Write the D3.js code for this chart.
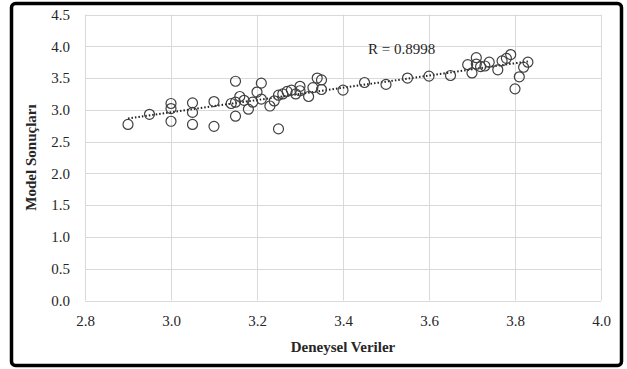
<!DOCTYPE html>
<html>
<head>
<meta charset="utf-8">
<script src="https://cdn.jsdelivr.net/npm/d3@7"></script>
<style>
  body { margin: 0; background: #fff; }
  svg text { font-family: "Liberation Serif", "Times New Roman", serif; fill: #262626; }
</style>
</head>
<body>
<svg id="chart" width="627" height="369"></svg>
<script>
let deneysel = [2.90, 2.95, 3.00, 3.00, 3.00, 3.05, 3.05, 3.05, 3.10, 3.10,
    3.14, 3.15, 3.15, 3.15, 3.16, 3.17, 3.18, 3.19, 3.20, 3.21,
    3.21, 3.23, 3.24, 3.25, 3.25, 3.26, 3.27, 3.28, 3.29, 3.30,
    3.30, 3.32, 3.33, 3.34, 3.35, 3.35, 3.40, 3.45, 3.50, 3.55,
    3.60, 3.65, 3.69, 3.70, 3.71, 3.71, 3.72, 3.73, 3.74, 3.76,
    3.77, 3.78, 3.79, 3.80, 3.81, 3.82, 3.83];
let model = [2.77, 2.93, 3.10, 3.02, 2.82, 3.11, 2.96, 2.77, 3.13, 2.74,
    3.10, 3.12, 3.45, 2.90, 3.21, 3.15, 3.01, 3.12, 3.28, 3.42,
    3.17, 3.06, 3.14, 3.23, 2.70, 3.25, 3.29, 3.31, 3.25, 3.37,
    3.30, 3.21, 3.35, 3.50, 3.47, 3.32, 3.31, 3.43, 3.40, 3.50,
    3.53, 3.54, 3.71, 3.58, 3.82, 3.72, 3.68, 3.69, 3.75, 3.63,
    3.77, 3.81, 3.87, 3.33, 3.52, 3.67, 3.75];
let xTicks = [2.8, 3.0, 3.2, 3.4, 3.6, 3.8, 4.0];
let yTicks = [0.0, 0.5, 1.0, 1.5, 2.0, 2.5, 3.0, 3.5, 4.0, 4.5];
let rLabel = 'R = 0.8998';

let serif = '"Liberation Serif", "Times New Roman", serif';
let svg = d3.select('svg#chart');

let x = d3.scaleLinear().domain([2.8, 4.0]).range([85, 601]);
let y = d3.scaleLinear().domain([0, 4.5]).range([300.5, 14.5]);

// outer frame
svg.append('rect')
    .attr('x', 11.5).attr('y', 3.5)
    .attr('width', 610).attr('height', 362)
    .attr('rx', 4)
    .attr('fill', '#fff')
    .attr('stroke', '#000')
    .attr('stroke-width', 3.5);

// gridlines
let grid = svg.append('g').attr('stroke', '#d9d9d9').attr('stroke-width', 1);
grid.selectAll('line.gx')
    .data(xTicks)
    .enter().append('line')
    .attr('class', 'gx')
    .attr('x1', d => Math.round(x(d)) + 0.5).attr('x2', d => Math.round(x(d)) + 0.5)
    .attr('y1', y(0)).attr('y2', y(4.5));
grid.selectAll('line.gy')
    .data(yTicks)
    .enter().append('line')
    .attr('class', 'gy')
    .attr('y1', d => Math.round(y(d)) + 0.5).attr('y2', d => Math.round(y(d)) + 0.5)
    .attr('x1', x(2.8)).attr('x2', x(4.0));

// axes, just for the labels
let xAxis = svg.append('g')
    .attr('transform', `translate(0,${y(0)})`)
    .call(d3.axisBottom(x).tickValues(xTicks).tickFormat(d3.format('.1f')).tickSize(0).tickPadding(15));
let yAxis = svg.append('g')
    .attr('transform', `translate(${x(2.8)},0)`)
    .call(d3.axisLeft(y).tickValues(yTicks).tickFormat(d3.format('.1f')).tickSize(0).tickPadding(15));
[xAxis, yAxis].forEach(a => {
    a.attr('font-family', serif).attr('font-size', 15);
    a.select('.domain').remove();
    a.selectAll('text')
        .style('font-family', serif)
        .style('font-size', '15px')
        .attr('fill', '#262626');
});

// linear trend line
let mx = d3.mean(deneysel), my = d3.mean(model);
let sxy = d3.sum(deneysel, (d, i) => (d - mx) * (model[i] - my));
let sxx = d3.sum(deneysel, d => (d - mx) * (d - mx));
let slope = sxy / sxx, icpt = my - slope * mx;
let xmin = d3.min(deneysel), xmax = d3.max(deneysel);

svg.append('line')
    .attr('x1', x(xmin)).attr('y1', y(icpt + slope * xmin))
    .attr('x2', x(xmax)).attr('y2', y(icpt + slope * xmax))
    .attr('stroke', '#222')
    .attr('stroke-width', 2)
    .attr('stroke-dasharray', '1.5,2');

// points
svg.append('g').selectAll('circle')
    .data(deneysel)
    .enter().append('circle')
    .attr('cx', (d, i) => x(d))
    .attr('cy', (d, i) => y(model[i]))
    .attr('r', 5)
    .attr('fill', 'none')
    .attr('stroke', '#404040')
    .attr('stroke-width', 1.2);

svg.append('text')
    .attr('x', 368).attr('y', 54)
    .style('font-size', '15px')
    .text(rLabel);

// axis titles
svg.append('text')
    .attr('x', (x(2.8) + x(4.0)) / 2).attr('y', 352)
    .attr('text-anchor', 'middle')
    .style('font-size', '15px').style('font-weight', 'bold')
    .text('Deneysel Veriler');
svg.append('text')
    .attr('transform', `translate(36,${(y(0) + y(4.5)) / 2}) rotate(-90)`)
    .attr('text-anchor', 'middle')
    .style('font-size', '15px').style('font-weight', 'bold')
    .text('Model Sonuçları');
</script>
</body>
</html>
